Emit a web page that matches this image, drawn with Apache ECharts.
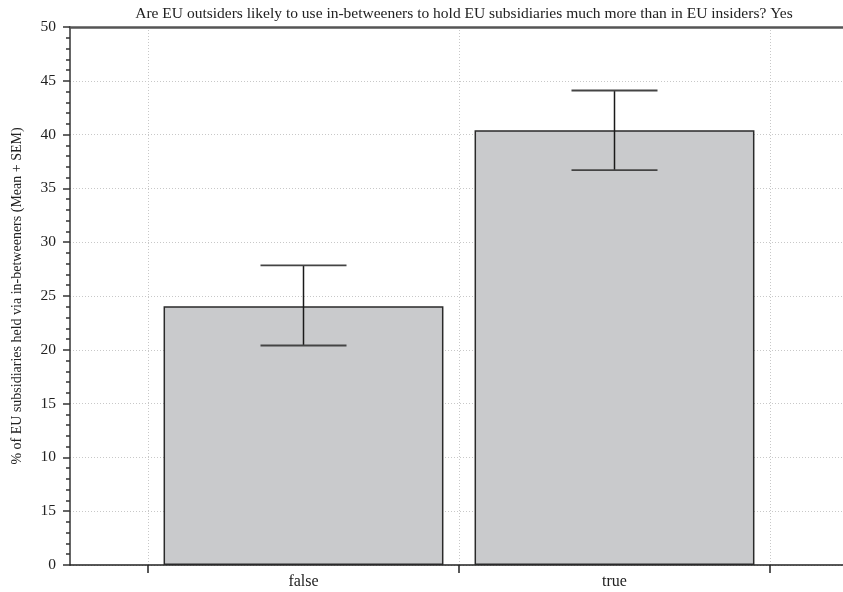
<!DOCTYPE html>
<html>
<head>
<meta charset="utf-8">
<script src="https://cdn.jsdelivr.net/npm/echarts@6/dist/echarts.min.js"></script>
<style>html,body{margin:0;padding:0;background:#fff;}#c{width:843px;height:592px;}</style>
</head>
<body>
<div id="c"></div>
<script>
const titleText = 'Are EU outsiders likely to use in-betweeners to hold EU subsidiaries much more than in EU insiders? Yes';
const yAxisName = '% of EU subsidiaries held via in-betweeners (Mean + SEM)';
const categories = ['false', 'true'];
const means = [24.05, 40.4];
const errLow = [20.4, 36.7];
const errHigh = [27.84, 44.1];
const yTickLabels = ['0', '15', '10', '15', '20', '25', '30', '35', '40', '45', '50'];

const FONT = '"Liberation Serif", "DejaVu Serif", serif';
const chart = echarts.init(document.getElementById('c'), null, {renderer: 'canvas'});

chart.setOption({
  animation: false,
  title: {
    text: titleText,
    left: 459, textAlign: 'center', top: 1,
    textStyle: {fontFamily: FONT, fontSize: 15.5, fontWeight: 'normal', color: '#222'}
  },
  grid: [
    {left: 70, right: -7, top: 27, bottom: 27, containLabel: false, outerBoundsMode: 'none'},
    {left: 148, right: 73, top: 27, bottom: 27, containLabel: false, outerBoundsMode: 'none'}
  ],
  xAxis: [
    {gridIndex: 0, type: 'value', min: 0, max: 1, position: 'bottom',
     axisLine: {show: true, lineStyle: {color: '#222', width: 1.5}},
     axisTick: {show: false}, axisLabel: {show: false}, splitLine: {show: false}},
    {gridIndex: 0, type: 'value', min: 0, max: 1, position: 'top',
     axisLine: {show: true, lineStyle: {color: '#555', width: 2.5}},
     axisTick: {show: false}, axisLabel: {show: false}, splitLine: {show: false}},
    {gridIndex: 1, type: 'category', data: categories, boundaryGap: true,
     axisLine: {show: false},
     axisTick: {show: true, length: 8, inside: false, lineStyle: {color: '#222', width: 1.5}},
     axisLabel: {show: true, margin: 9, fontFamily: FONT, fontSize: 16, color: '#222'},
     splitLine: {show: true, interval: 0, lineStyle: {color: '#c8c8c8', type: [1, 2], width: 1}}}
  ],
  yAxis: [
    {gridIndex: 0, type: 'value', min: 0, max: 50, interval: 5,
     name: yAxisName, nameLocation: 'middle', nameGap: 46, nameRotate: 90,
     nameTextStyle: {fontFamily: FONT, fontSize: 14, color: '#222'},
     axisLine: {show: true, lineStyle: {color: '#333', width: 1.5}},
     axisTick: {show: true, length: 7, inside: false, lineStyle: {color: '#333', width: 1.5}},
     minorTick: {show: true, splitNumber: 5, length: 4, lineStyle: {color: '#333', width: 1.5}},
     axisLabel: {margin: 14, fontFamily: FONT, fontSize: 15.5, color: '#222',
       formatter: function (v) { return yTickLabels[Math.round(v / 5)]; }},
     splitLine: {show: true, lineStyle: {color: '#c8c8c8', type: [1, 2], width: 1}}},
    {gridIndex: 1, type: 'value', min: 0, max: 50, show: false, splitLine: {show: false}}
  ],
  series: [
    {type: 'bar', xAxisIndex: 2, yAxisIndex: 1, data: means, barWidth: '90%',
     itemStyle: {color: '#c9cacc', borderColor: '#2a2a2a', borderWidth: 1.5}, z: 3},
    {type: 'custom', xAxisIndex: 2, yAxisIndex: 1, z: 5,
     data: categories.map((c, i) => [i, errLow[i], errHigh[i]]),
     renderItem: function (params, api) {
       const x = api.value(0);
       const lo = api.coord([x, api.value(1)]);
       const hi = api.coord([x, api.value(2)]);
       const hw = 43;
       return {type: 'group', children: [
         {type: 'line', shape: {x1: lo[0], y1: lo[1], x2: hi[0], y2: hi[1]},
          style: {stroke: '#1a1a1a', lineWidth: 1.5}},
         {type: 'line', shape: {x1: lo[0] - hw, y1: lo[1], x2: lo[0] + hw, y2: lo[1]},
          style: {stroke: '#444', lineWidth: 1.8}},
         {type: 'line', shape: {x1: hi[0] - hw, y1: hi[1], x2: hi[0] + hw, y2: hi[1]},
          style: {stroke: '#444', lineWidth: 1.8}}
       ]};
     }}
  ]
});
</script>
</body>
</html>
